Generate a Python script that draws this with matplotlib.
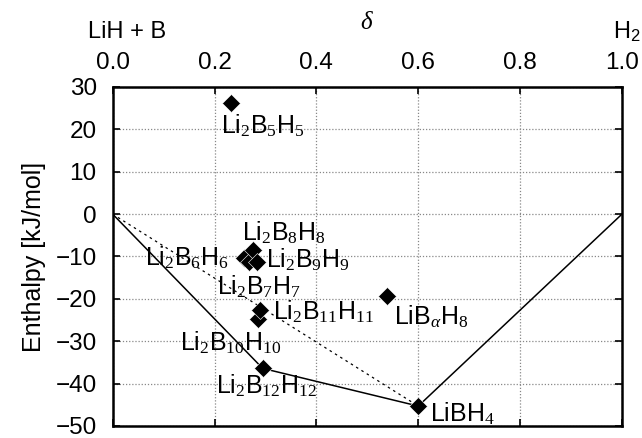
import numpy as np
import matplotlib
matplotlib.use("Agg")
import matplotlib.pyplot as plt

plt.rcParams['font.family'] = ['Liberation Sans', 'DejaVu Sans']
plt.rcParams['mathtext.fontset'] = 'custom'
plt.rcParams['mathtext.rm'] = 'Liberation Serif'
plt.rcParams['mathtext.it'] = 'Liberation Serif:italic'
plt.rcParams['mathtext.sf'] = 'Liberation Sans'

# compounds: delta, enthalpy (kJ/mol)
names = ["Li2B5H5", "Li2B6H6", "Li2B7H7", "Li2B8H8", "Li2B9H9",
         "Li2B10H10", "Li2B11H11", "Li2B12H12", "LiBaH8", "LiBH4"]
delta = [0.232, 0.258, 0.268, 0.2755, 0.283, 0.285, 0.289, 0.2945, 0.538, 0.600]
enthalpy = [26.2, -10.4, -11.3, -8.5, -11.3, -24.8, -22.6, -36.4, -19.4, -45.3]

labels = [r"Li$_\mathrm{2}$B$_\mathrm{5}$H$_\mathrm{5}$",
          r"Li$_\mathrm{2}$B$_\mathrm{6}$H$_\mathrm{6}$",
          r"Li$_\mathrm{2}$B$_\mathrm{7}$H$_\mathrm{7}$",
          r"Li$_\mathrm{2}$B$_\mathrm{8}$H$_\mathrm{8}$",
          r"Li$_\mathrm{2}$B$_\mathrm{9}$H$_\mathrm{9}$",
          r"Li$_\mathrm{2}$B$_\mathrm{10}$H$_\mathrm{10}$",
          r"Li$_\mathrm{2}$B$_\mathrm{11}$H$_\mathrm{11}$",
          r"Li$_\mathrm{2}$B$_\mathrm{12}$H$_\mathrm{12}$",
          r"LiB$_\alpha$H$_\mathrm{8}$",
          r"LiBH$_\mathrm{4}$"]
# where each label sits (left edge, baseline)
label_x = [0.2126, 0.0634, 0.205, 0.253, 0.302, 0.132, 0.315, 0.203, 0.552, 0.623]
label_y = [19.1, -12.1, -19.0, -6.3, -12.5, -32.1, -24.9, -42.3, -26.1, -49.0]

# convex hull and the direct line to LiBH4
hull_x = [0.0, 0.2945, 0.600, 1.0]
hull_y = [0.0, -36.4, -45.3, 0.0]
direct_x = [0.0, 0.600]
direct_y = [0.0, -45.3]

fig = plt.figure(figsize=(6.42, 4.38), dpi=100)
ax = fig.add_axes([0.1755, 0.0274, 0.7933, 0.774])

ax.plot(hull_x, hull_y, color="black", lw=1.1, zorder=2)
ax.plot(direct_x, direct_y, color="black", lw=0.9, ls=(0, (2, 3)), zorder=2)
ax.plot(delta, enthalpy, ls="none", marker="D", ms=9, color="black",
        markeredgecolor="white", markeredgewidth=0.4, zorder=3)

for lab, lx, ly in zip(labels, label_x, label_y):
    ax.text(lx, ly, lab, fontsize=18, ha="left", va="baseline", zorder=4)

ax.set_xlim(0, 1)
ax.set_ylim(-50, 30)
ax.set_xticks(np.arange(0, 1.01, 0.2))
ax.set_yticks(np.arange(-50, 31, 10))
ax.set_xticklabels(["0.0", "0.2", "0.4", "0.6", "0.8", "1.0"])
ax.xaxis.tick_top()
ax.tick_params(axis="x", which="both", direction="in", top=True, bottom=True,
               labeltop=True, labelbottom=False, labelsize=17.5, pad=9, length=5, width=1.2)
ax.tick_params(axis="y", which="both", direction="in", left=True, right=True,
               labelsize=17.5, pad=11.5, length=5, width=1.2)
ax.grid(True, color="#888888", ls=(0, (1, 1.5)), lw=0.9)
for sp in ax.spines.values():
    sp.set_linewidth(1.8)

ax.set_ylabel("Enthalpy [kJ/mol]", fontsize=18, labelpad=7)
ax.text(0.5, 1.171, r"$\delta$", transform=ax.transAxes, fontsize=18,
        ha="center", va="baseline")
ax.text(-0.048, 1.1437, "LiH + B", transform=ax.transAxes, fontsize=17,
        ha="left", va="baseline")
ax.text(0.982, 1.1437, r"H$_\mathsf{2}$", transform=ax.transAxes, fontsize=17,
        ha="left", va="baseline", clip_on=False)

fig.savefig("out.png", dpi=100)
